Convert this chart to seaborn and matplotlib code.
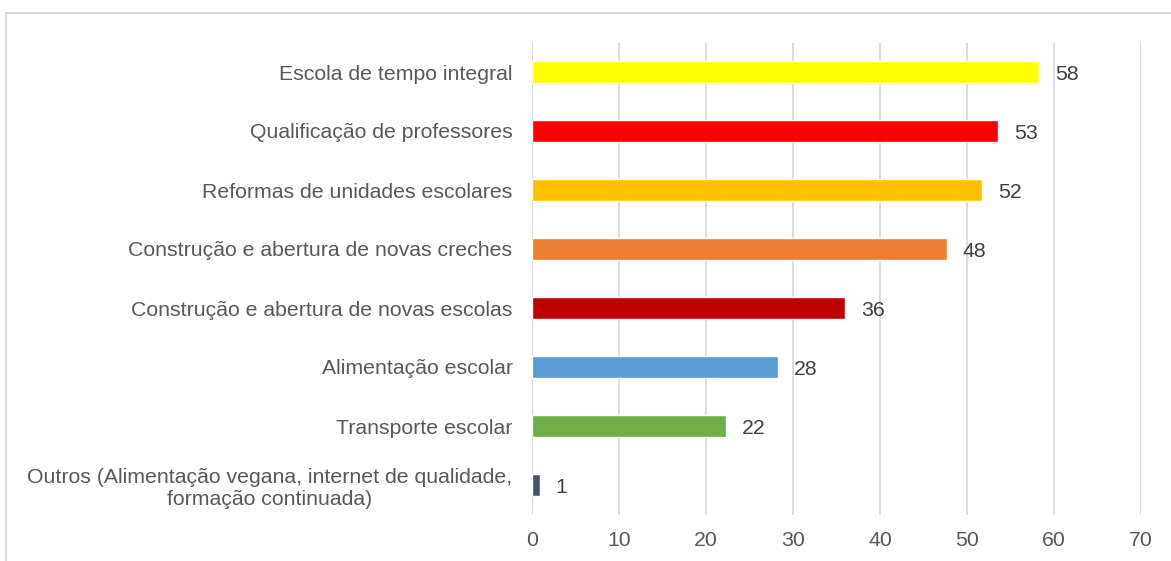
import matplotlib
matplotlib.use("Agg")
import matplotlib.pyplot as plt
import seaborn as sns
import pandas as pd
from matplotlib.patches import Rectangle

categories = [
    "Escola de tempo integral",
    "Qualificação de professores",
    "Reformas de unidades escolares",
    "Construção e abertura de novas creches",
    "Construção e abertura de novas escolas",
    "Alimentação escolar",
    "Transporte escolar",
    "Outros (Alimentação vegana, internet de qualidade,\nformação continuada)",
]
values = [58.3, 53.6, 51.7, 47.7, 36.0, 28.3, 22.3, 0.9]
labels = ["58", "53", "52", "48", "36", "28", "22", "1"]
colors = ["#FFFF00", "#FF0000", "#FFC000", "#ED7D31", "#C00000", "#5B9BD5", "#70AD47", "#44546A"]
xticks = [0, 10, 20, 30, 40, 50, 60, 70]

sns.set_theme(style="white")
plt.rcParams["font.family"] = ["Liberation Sans", "DejaVu Sans"]
text_color = "#595959"

df = pd.DataFrame({"cat": categories, "val": values})

fig = plt.figure(figsize=(11.71, 5.61), dpi=100)
ax = fig.add_axes([532 / 1171, 1 - 514.5 / 561, (1141 - 532) / 1171, (514.5 - 42.5) / 561])

sns.barplot(data=df, x="val", y="cat", hue="cat", palette=colors, legend=False,
            width=0.37, ax=ax, saturation=1, zorder=3)

ax.set_xlim(0, 70)
ax.set_ylim(len(categories) - 0.5, -0.5)
ax.set_xticks(xticks)
ax.set_xticklabels([str(t) for t in xticks])
ax.set_xlabel("")
ax.set_ylabel("")
ax.grid(axis="x", color="#D9D9D9", linewidth=1.3, zorder=0)
ax.grid(axis="y", visible=False)
for s in ["top", "right", "bottom", "left"]:
    ax.spines[s].set_visible(False)
ax.axvline(0, color="#D9D9D9", linewidth=1.3, zorder=1)

ax.tick_params(axis="x", length=0, pad=12, labelsize=15.3, labelcolor=text_color)
ax.tick_params(axis="y", length=0, pad=14, labelsize=15.3, labelcolor=text_color)
for t in ax.get_yticklabels():
    t.set_multialignment("center")

for i, (v, lab) in enumerate(zip(values, labels)):
    ax.annotate(lab, xy=(v, i), xytext=(11.5, -1.5), textcoords="offset points",
                ha="left", va="center", fontsize=15.3, color="#404040")

# outer chart frame (top and left edges visible)
fig.patches.append(Rectangle((6 / 1171, -0.1), 1.2, 1 - 12.5 / 561 + 0.1,
                             transform=fig.transFigure, fill=False,
                             edgecolor="#D9D9D9", linewidth=1.5, zorder=0))

fig.savefig("out.png", dpi=100, facecolor="white")
